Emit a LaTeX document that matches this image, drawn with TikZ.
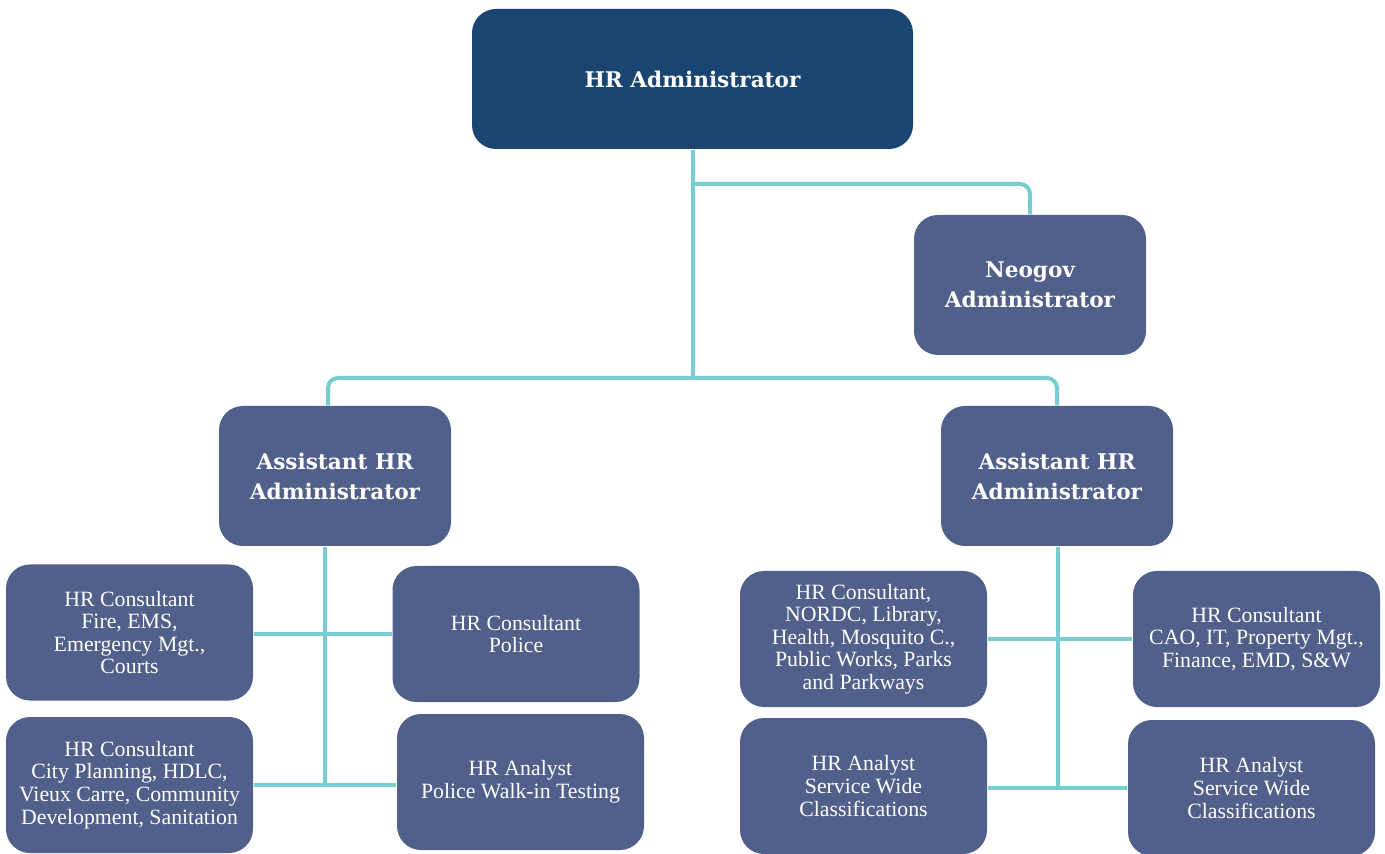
\documentclass[tikz,border=0pt]{standalone}
\usepackage{fontspec}
\setmainfont{Liberation Serif}
\newfontfamily\headfont{DejaVu Serif}
\usepackage{tikz}
\usepackage{xcolor}
\usetikzlibrary{positioning}

\definecolor{navy}{HTML}{1A4472}
\definecolor{slate}{HTML}{51608A}
\definecolor{teal}{HTML}{78CDD0}

\begin{document}
\begin{tikzpicture}[x=0.5pt, y=-0.5pt, semithick]
    \tikzstyle{box}=[rectangle, rounded corners=12pt, text=white, align=center, inner sep=2pt]
    \tikzstyle{head}=[box, fill=navy, minimum width=220.5pt, minimum height=70pt, font=\headfont\bfseries\fontsize{10.8}{15}\selectfont]
    \tikzstyle{lead}=[box, fill=slate, minimum width=116pt, minimum height=70pt, font=\headfont\bfseries\fontsize{10.8}{15}\selectfont]
    \tikzstyle{staff}=[box, fill=slate, minimum width=123.5pt, minimum height=68pt, font=\fontsize{10.9}{11.3}\selectfont]
    \tikzstyle{link}=[draw=teal, line width=2pt, rounded corners=5pt]

    \useasboundingbox[fill=white] (0,0) rectangle (1385,854);

    \node[head]     (admin)  at (692.5,79)   {HR Administrator};
    \node[lead]     (neogov) at (1030,285)   {Neogov\\Administrator};
    \node[lead]     (asstL)  at (335,476)    {Assistant HR\\Administrator};
    \node[lead]     (asstR)  at (1057,476)   {Assistant HR\\Administrator};

    \node[staff]    (fire)   at (129.5,632.5) {HR Consultant\\Fire, EMS,\\Emergency Mgt.,\\Courts};
    \node[staff]    (police) at (516,634)     {HR Consultant\\Police};
    \node[staff]    (city)   at (129.5,785)   {HR Consultant\\City Planning, HDLC,\\Vieux Carre, Community\\Development, Sanitation};
    \node[staff]    (walkin) at (520.5,782)   {HR Analyst\\Police Walk-in Testing};

    \node[staff]    (nordc)  at (863.5,639)   {HR Consultant,\\NORDC, Library,\\Health, Mosquito C.,\\Public Works, Parks\\and Parkways};
    \node[staff]    (cao)    at (1256.5,639)  {HR Consultant\\CAO, IT, Property Mgt.,\\Finance, EMD, S\&W};
    \node[staff]    (swideL) at (863.5,786)   {HR Analyst\\Service Wide\\Classifications};
    \node[staff]    (swideR) at (1251.5,788)  {HR Analyst\\Service Wide\\Classifications};

    \coordinate (split) at (692.5,184);
    \coordinate (fork)  at (692.5,378);
    \coordinate (endL)  at (325,785);
    \coordinate (endR)  at (1058,788);

    % top level
    \draw[link] (admin.south) -- (fork);
    \draw[link] (split) -| (neogov.north);
    \draw[link] (fork) -| ([xshift=-3.5pt]asstL.north);
    \draw[link] (fork) -| (asstR.north);

    % left team
    \draw[link] ([xshift=-5pt]asstL.south) -- (endL);
    \draw[link] (fire.east |- police.west) -- (police.west);
    \draw[link] (city.east) -- (city.east -| walkin.west);

    % right team
    \draw[link] ([xshift=0.5pt]asstR.south) -- (endR);
    \draw[link] (nordc.east) -- (cao.west);
    \draw[link] (swideL.east |- swideR.west) -- (swideR.west);
\end{tikzpicture}
\end{document}
